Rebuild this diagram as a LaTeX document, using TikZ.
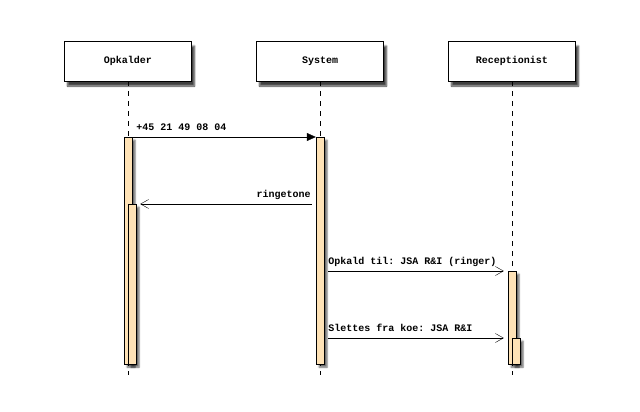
\documentclass[tikz,border=0pt]{standalone}
\usepackage{fontspec}
\setmonofont{Liberation Mono}
\usetikzlibrary{positioning, arrows.meta, shadows.blur}
\definecolor{barfill}{RGB}{254,226,182}
\tikzset{
	x=1pt, y=1pt,
	every node/.style={font=\ttfamily\bfseries\fontsize{10}{12}\selectfont}, % bold mono for all texts
	node distance=192pt, % distance between two lifelines
	actor/.style={draw, fill=white, minimum width=127pt, minimum height=40pt,
		blur shadow={shadow xshift=3pt, shadow yshift=-5pt, shadow blur steps=6, shadow opacity=75}}, % head box of a lifeline
	bar/.style={draw, fill=barfill, minimum width=8pt, inner sep=0pt, anchor=north,
		blur shadow={shadow xshift=3pt, shadow yshift=-3pt, shadow blur steps=4, shadow opacity=60}}, % activation bar
	lifeline/.style={dash pattern=on 5pt off 5pt},
	call/.style={-{Triangle[length=9pt, width=8pt]}}, % synchronous message
	async/.style={-{Straight Barb[length=8pt, width=9pt]}}, % asynchronous message
	lbl/.style={inner sep=0pt},
}

\begin{document}
\begin{tikzpicture}
	\useasboundingbox (0,0) rectangle (640,-412);
			\node[actor] (caller) at (128,-61) {Opkalder};
			\node[actor, right of=caller] (sys) {System};
			\node[actor, right of=sys] (recep) {Receptionist};
	% ends of the lifelines
			\coordinate (callerEnd) at (caller |- 0,-375);
			\coordinate (sysEnd) at (sys |- 0,-375);
			\coordinate (recepEnd) at (recep |- 0,-375);
	\draw[lifeline] (caller) -- (callerEnd)
			(sys) -- (sysEnd)
			(recep) -- (recepEnd);
	% activation bars
			\node[bar, minimum height=227pt] (callerA) at (caller |- 0,-137) {};
			\node[bar, minimum height=160pt] (callerB) at ([xshift=4pt]caller |- 0,-204) {};
			\node[bar, minimum height=227pt] (sysA) at (sys |- 0,-137) {};
			\node[bar, minimum height=93pt] (recepA) at (recep |- 0,-271) {};
			\node[bar, minimum height=26pt] (recepB) at ([xshift=4pt]recep |- 0,-338) {};
	% messages
	\draw[call] (callerA.north east) -- node[lbl, at start, anchor=base west, xshift=4pt, yshift=7pt]{+45 21 49 08 04} (sysA.north west);
	\draw[async] ([xshift=-4pt]sysA.west |- callerB.north) -- node[lbl, at start, anchor=base east, xshift=-1pt, yshift=7pt]{ringetone} ([xshift=4pt]callerB.north east);
	\draw[async] ([xshift=4pt]sysA.east |- recepA.north) -- node[lbl, at start, anchor=base west, yshift=7pt]{Opkald til: JSA R\&I (ringer)} ([xshift=-4pt]recepA.north west);
	\draw[async] ([xshift=4pt]sysA.east |- recepB.north) -- node[lbl, at start, anchor=base west, yshift=7pt]{Slettes fra koe: JSA R\&I} ([xshift=-4pt]recepA.west |- recepB.north);
	\end{tikzpicture}
\end{document}
